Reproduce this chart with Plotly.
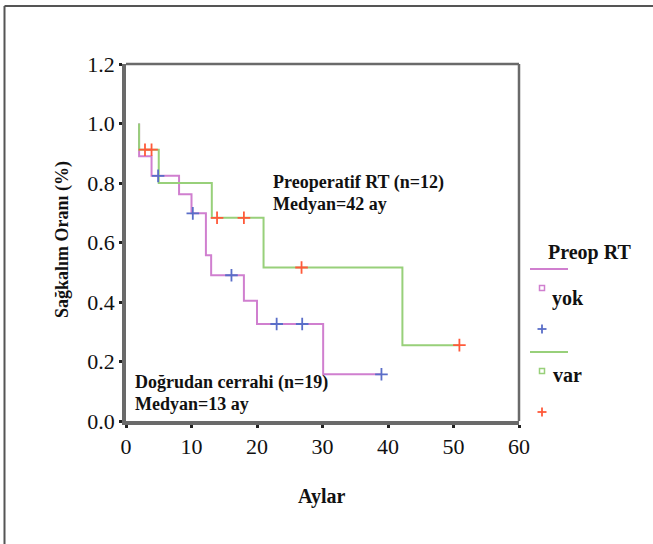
import plotly.graph_objects as go

# ---- data ----
yok_t = [2.0, 2.0, 3.9, 8.1, 10.0, 12.2, 13.0, 18.0, 20.0, 30.1, 39.0]
yok_s = [1.0, 0.89, 0.824, 0.762, 0.698, 0.557, 0.49, 0.404, 0.326, 0.157, 0.157]
yok_cens_t = [4.9, 10.2, 16.1, 23.0, 26.9, 39.0]
yok_cens_s = [0.824, 0.698, 0.49, 0.326, 0.326, 0.157]

var_t = [2.0, 2.0, 5.0, 13.1, 21.0, 42.2, 50.9]
var_s = [1.0, 0.912, 0.80, 0.683, 0.516, 0.255, 0.255]
var_cens_t = [2.9, 3.9, 13.9, 18.0, 26.8, 50.9]
var_cens_s = [0.912, 0.912, 0.683, 0.683, 0.516, 0.255]

x_ticks = [0, 10, 20, 30, 40, 50, 60]
y_ticks = [0.0, 0.2, 0.4, 0.6, 0.8, 1.0, 1.2]
y_labels = ["0.0", "0.2", "0.4", "0.6", "0.8", "1.0", "1.2"]

C_YOK = "#d07fcf"
C_VAR = "#98d07a"
C_BLUE = "#5a6ec8"
C_RED = "#ff5a3a"
FONT = "Liberation Serif"

W, H = 653, 544
L, R, T, B = 126, 519, 64, 421  # plot area in pixels


def px(x):
    return (x - L) / (R - L)


def py(y):
    return (B - y) / (B - T)


fig = go.Figure()
fig.add_trace(go.Scatter(x=yok_t, y=yok_s, mode="lines", line=dict(color=C_YOK, width=2, shape="hv"),
                         showlegend=False, hoverinfo="skip"))
fig.add_trace(go.Scatter(x=var_t, y=var_s, mode="lines", line=dict(color=C_VAR, width=2, shape="hv"),
                         showlegend=False, hoverinfo="skip"))
fig.add_trace(go.Scatter(x=yok_cens_t, y=yok_cens_s, mode="markers",
                         marker=dict(symbol="cross-thin", size=9, line=dict(color=C_BLUE, width=1.8)),
                         showlegend=False, hoverinfo="skip"))
fig.add_trace(go.Scatter(x=var_cens_t, y=var_cens_s, mode="markers",
                         marker=dict(symbol="cross-thin", size=9, line=dict(color=C_RED, width=1.8)),
                         showlegend=False, hoverinfo="skip"))

shapes = []
# plot frame top/right
shapes.append(dict(type="line", xref="paper", yref="paper", x0=0, x1=1, y0=1, y1=1,
                   line=dict(color="#6a6a6a", width=2.5)))
shapes.append(dict(type="line", xref="paper", yref="paper", x0=1, x1=1, y0=0, y1=1,
                   line=dict(color="#6a6a6a", width=2.5)))
# outer border (top and left)
shapes.append(dict(type="line", xref="paper", yref="paper", x0=px(4.5), x1=px(W + 5), y0=py(6), y1=py(6),
                   line=dict(color="#555555", width=2)))
shapes.append(dict(type="line", xref="paper", yref="paper", x0=px(4.5), x1=px(4.5), y0=py(6), y1=py(H + 5),
                   line=dict(color="#555555", width=2)))
# legend lines
shapes.append(dict(type="line", xref="paper", yref="paper", x0=px(530), x1=px(568), y0=py(269), y1=py(269),
                   line=dict(color=C_YOK, width=2)))
shapes.append(dict(type="line", xref="paper", yref="paper", x0=px(530), x1=px(568), y0=py(352), y1=py(352),
                   line=dict(color=C_VAR, width=2)))
# legend squares
for cy, col in [(288, C_YOK), (371, C_VAR)]:
    shapes.append(dict(type="rect", xref="paper", yref="paper", x0=px(539.5), x1=px(544.5),
                       y0=py(cy + 2.5), y1=py(cy - 2.5), line=dict(color=col, width=1.5)))
# legend crosses
for cy, col in [(329, C_BLUE), (412, C_RED)]:
    shapes.append(dict(type="line", xref="paper", yref="paper", x0=px(537.5), x1=px(546.5),
                       y0=py(cy), y1=py(cy), line=dict(color=col, width=1.8)))
    shapes.append(dict(type="line", xref="paper", yref="paper", x0=px(542), x1=px(542),
                       y0=py(cy - 4.5), y1=py(cy + 4.5), line=dict(color=col, width=1.8)))

ann = []


def text(x, y, s, size=15, xanchor="left", bold=True, angle=0):
    ann.append(dict(xref="paper", yref="paper", x=px(x), y=py(y), text=("<b>%s</b>" % s) if bold else s,
                    showarrow=False, xanchor=xanchor, yanchor="middle", textangle=angle,
                    font=dict(family=FONT, size=size, color="#111111")))


text(271, 182, "Preoperatif RT (n=12)", size=18)
text(271, 204, "Medyan=42 ay", size=18)
text(133, 382, "Doğrudan cerrahi (n=19)", size=18)
text(133, 404, "Medyan=13 ay", size=18)
text(589, 252, "Preop RT", size=20, xanchor="center")
text(550, 298, "yok", size=20)
text(551, 375, "var", size=20)
text(322, 497, "Aylar", size=20, xanchor="center")
text(62, 240, "Sağkalım Oranı (%)", size=18, xanchor="center", angle=-90)

fig.update_layout(
    width=W, height=H,
    margin=dict(l=L, r=W - R, t=T, b=H - B),
    paper_bgcolor="white", plot_bgcolor="white",
    shapes=shapes, annotations=ann,
    showlegend=False,
    xaxis=dict(range=[0, 60], tickvals=x_ticks, showgrid=False, zeroline=False,
               showline=True, linecolor="#6a6a6a", linewidth=3.5,
               ticks="outside", ticklen=3, tickwidth=3, tickcolor="#222222",
               tickfont=dict(family=FONT, size=22, color="#111111")),
    yaxis=dict(range=[0, 1.2], tickvals=y_ticks, ticktext=y_labels, showgrid=False, zeroline=False,
               showline=True, linecolor="#6a6a6a", linewidth=3.5,
               ticks="outside", ticklen=3, tickwidth=3, tickcolor="#222222",
               tickfont=dict(family=FONT, size=22, color="#111111")),
)

fig.write_html("out.html")
